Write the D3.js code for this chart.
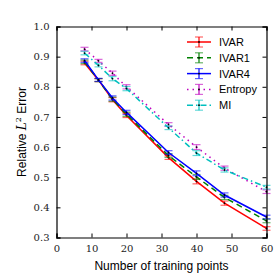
<!DOCTYPE html>
<html>
<head>
<meta charset="utf-8">
<script src="https://d3js.org/d3.v7.min.js"></script>
<style>
body { margin: 0; background: #fff; }
svg { display: block; }
</style>
</head>
<body>
<div id="chart"></div>
<script>
// data
var xPoints = [8, 12, 16, 20, 32, 40, 48, 60];
var ivar = [0.879, 0.822, 0.757, 0.705, 0.565, 0.486, 0.414, 0.330];
var ivar1 = [0.883, 0.822, 0.759, 0.709, 0.572, 0.501, 0.433, 0.355];
var ivar4 = [0.887, 0.823, 0.763, 0.715, 0.582, 0.513, 0.441, 0.368];
var entropy = [0.925, 0.886, 0.845, 0.800, 0.675, 0.600, 0.530, 0.452];
var mi = [0.912, 0.871, 0.827, 0.794, 0.664, 0.580, 0.524, 0.467];
var errSmall = [0.006, 0.005, 0.007, 0.007, 0.006, 0.008, 0.007, 0.006];
var seriesNames = ["IVAR", "IVAR1", "IVAR4", "Entropy", "MI"];
var xTicks = [0, 10, 20, 30, 40, 50, 60];
var yTicks = [0.3, 0.4, 0.5, 0.6, 0.7, 0.8, 0.9, 1.0];

var svgWidth = 280, svgHeight = 280;
var margin = { top: 26.5, right: 13.5, bottom: 42.5, left: 56.5 };
var width = svgWidth - margin.left - margin.right;
var height = svgHeight - margin.top - margin.bottom;

var svg = d3.select("#chart").append("svg")
    .attr("width", svgWidth)
    .attr("height", svgHeight);

var g = svg.append("g")
    .attr("transform", `translate(${margin.left}, ${margin.top})`);

var xScale = d3.scaleLinear().domain([0, 60]).range([0, width]);
var yScale = d3.scaleLinear().domain([0.3, 1.0]).range([height, 0]);

// series styles
var series = [
    { name: seriesNames[0], values: ivar, color: "#ff0000", dash: null },
    { name: seriesNames[1], values: ivar1, color: "#008000", dash: "6,4" },
    { name: seriesNames[2], values: ivar4, color: "#0000ff", dash: null },
    { name: seriesNames[3], values: entropy, color: "#bf00bf", dash: "1.5,4" },
    { name: seriesNames[4], values: mi, color: "#00bfbf", dash: "6,3,1.5,3" }
];

var line = d3.line()
    .x(d => xScale(d.x))
    .y(d => yScale(d.y));

series.forEach(function(s) {
    var pts = xPoints.map((x, i) => ({ x: x, y: s.values[i], e: errSmall[i] }));
    var sg = g.append("g");
    sg.append("path")
        .datum(pts)
        .attr("fill", "none")
        .attr("stroke", s.color)
        .attr("stroke-width", 1.5)
        .attr("stroke-dasharray", s.dash)
        .attr("d", line);
    // error bars
    var eb = sg.selectAll(".eb").data(pts).enter().append("g")
        .attr("stroke", s.color)
        .attr("stroke-opacity", 0.6)
        .attr("stroke-width", 1.2);
    eb.append("line")
        .attr("x1", d => xScale(d.x)).attr("x2", d => xScale(d.x))
        .attr("y1", d => yScale(d.y - d.e)).attr("y2", d => yScale(d.y + d.e));
    eb.append("line")
        .attr("x1", d => xScale(d.x) - 4).attr("x2", d => xScale(d.x) + 4)
        .attr("y1", d => yScale(d.y - d.e)).attr("y2", d => yScale(d.y - d.e));
    eb.append("line")
        .attr("x1", d => xScale(d.x) - 4).attr("x2", d => xScale(d.x) + 4)
        .attr("y1", d => yScale(d.y + d.e)).attr("y2", d => yScale(d.y + d.e));
    sg.selectAll(".dot").data(pts).enter().append("circle")
        .attr("cx", d => xScale(d.x))
        .attr("cy", d => yScale(d.y))
        .attr("r", 0.9)
        .attr("fill", "#000");
});

// axes, ticks pointing inward on all sides
var tickFont = "'DejaVu Serif', 'Liberation Serif', serif";
var bottomAxis = d3.axisBottom(xScale).tickValues(xTicks).tickSize(-4).tickPadding(7).tickFormat(d3.format("d"));
var topAxis = d3.axisTop(xScale).tickValues(xTicks).tickSize(-4).tickFormat("");
var leftAxis = d3.axisLeft(yScale).tickValues(yTicks).tickSize(-4).tickPadding(7).tickFormat(d3.format(".1f"));
var rightAxis = d3.axisRight(yScale).tickValues(yTicks).tickSize(-4).tickFormat("");

g.append("g").attr("transform", `translate(0, ${height})`).call(bottomAxis);
g.append("g").call(topAxis);
g.append("g").call(leftAxis);
g.append("g").attr("transform", `translate(${width}, 0)`).call(rightAxis);

g.selectAll(".domain").attr("stroke", "#000").attr("stroke-width", 1.2);
g.selectAll(".tick line").attr("stroke", "#000");
g.selectAll(".tick text")
    .attr("fill", "#222")
    .style("font-family", tickFont)
    .style("font-size", "10px");

// axis labels
svg.append("text")
    .attr("x", margin.left + width / 2)
    .attr("y", 270)
    .attr("text-anchor", "middle")
    .style("font-family", "'Liberation Sans', Arial, sans-serif")
    .style("font-size", "12px")
    .text("Number of training points");

var yLabel = svg.append("text")
    .attr("transform", `translate(26, ${margin.top + height / 2}) rotate(-90)`)
    .attr("text-anchor", "middle")
    .style("font-family", "'Liberation Sans', Arial, sans-serif")
    .style("font-size", "12px");
yLabel.append("tspan").text("Relative ");
yLabel.append("tspan").style("font-family", "'DejaVu Serif', serif").style("font-style", "italic").text("L");
yLabel.append("tspan").attr("dy", -5).style("font-size", "8px").style("font-family", "'DejaVu Serif', serif").text("2");
yLabel.append("tspan").attr("dy", 5).text(" Error");

// legend
var legend = svg.append("g");
series.forEach(function(s, i) {
    var ly = 42 + i * 15.8;
    var lg = legend.append("g");
    lg.append("line")
        .attr("x1", 187).attr("x2", 211)
        .attr("y1", ly).attr("y2", ly)
        .attr("stroke", s.color)
        .attr("stroke-width", 1.5)
        .attr("stroke-dasharray", s.dash);
    lg.append("line")
        .attr("x1", 199).attr("x2", 199)
        .attr("y1", ly - 5).attr("y2", ly + 5)
        .attr("stroke", s.color).attr("stroke-width", 1.2);
    lg.append("line")
        .attr("x1", 195).attr("x2", 203)
        .attr("y1", ly - 5).attr("y2", ly - 5)
        .attr("stroke", s.color).attr("stroke-opacity", 0.6).attr("stroke-width", 1.2);
    lg.append("line")
        .attr("x1", 195).attr("x2", 203)
        .attr("y1", ly + 5).attr("y2", ly + 5)
        .attr("stroke", s.color).attr("stroke-opacity", 0.6).attr("stroke-width", 1.2);
    lg.append("circle").attr("cx", 199).attr("cy", ly).attr("r", 0.9).attr("fill", "#000");
    lg.append("text")
        .attr("x", 219)
        .attr("y", ly + 4)
        .style("font-family", "'Liberation Sans', Arial, sans-serif")
        .style("font-size", "11px")
        .text(s.name);
});
</script>
</body>
</html>
